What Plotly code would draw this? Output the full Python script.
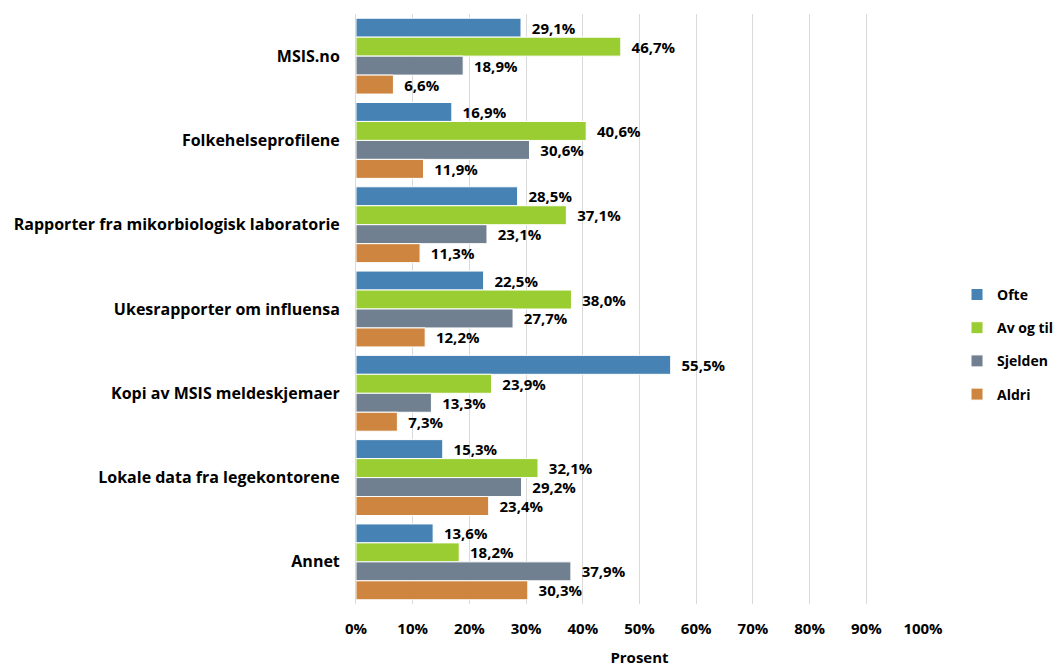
import plotly.graph_objects as go

categories = ["MSIS.no", "Folkehelseprofilene", "Rapporter fra mikorbiologisk laboratorie",
              "Ukesrapporter om influensa", "Kopi av MSIS meldeskjemaer",
              "Lokale data fra legekontorene", "Annet"]
series_names = ["Ofte", "Av og til", "Sjelden", "Aldri"]
ofte = [29.1, 16.9, 28.5, 22.5, 55.5, 15.3, 13.6]
av_og_til = [46.7, 40.6, 37.1, 38.0, 23.9, 32.1, 18.2]
sjelden = [18.9, 30.6, 23.1, 27.7, 13.3, 29.2, 37.9]
aldri = [6.6, 11.9, 11.3, 12.2, 7.3, 23.4, 30.3]
colors = ["#4682B4", "#9ACD32", "#708090", "#CD853F"]
x_ticks = [0, 10, 20, 30, 40, 50, 60, 70, 80, 90, 100]

FONT = "Open Sans"
fig = go.Figure()
for name, vals, col in zip(series_names, [ofte, av_og_til, sjelden, aldri], colors):
    fig.add_trace(go.Bar(
        y=categories, x=vals, name=name, orientation="h", legendgroup=name,
        marker=dict(color=col, line=dict(color="white", width=1)),
        text=["  " + f"{v:.1f}%".replace(".", ",") for v in vals],
        textposition="outside", cliponaxis=False, constraintext="none",
        textfont=dict(family=FONT, size=15, color="black", weight="bold"),
    ))

fig.update_layout(
    width=1060, height=667,
    paper_bgcolor="white", plot_bgcolor="white",
    barmode="group", bargap=0.1, bargroupgap=0,
    margin=dict(l=356, r=137, t=14, b=63, autoexpand=False),
    font=dict(family=FONT, size=16, color="black", weight="bold"),
    showlegend=True,
    legend=dict(x=1.06, y=0.44, yanchor="middle", xanchor="left",
                font=dict(family=FONT, size=14, color="black", weight="bold"),
                tracegroupgap=12, itemwidth=30, traceorder="grouped"),
)
fig.update_xaxes(
    range=[0, 100], tickvals=x_ticks, ticktext=[f"{t}%" for t in x_ticks],
    showgrid=True, gridcolor="#D9D9D9", gridwidth=1, zeroline=False,
    showline=False, ticks="", ticklen=0, ticklabelstandoff=14,
    title=dict(text="Prosent", standoff=16, font=dict(family=FONT, size=15, weight="bold")),
    tickfont=dict(family=FONT, size=15, weight="bold"),
)
fig.update_yaxes(
    autorange="reversed", showgrid=False, showline=True, linecolor="#D9D9D9",
    ticks="", ticklabelstandoff=12, tickfont=dict(family=FONT, size=16, weight="bold"),
)
fig.write_html("out.html")
